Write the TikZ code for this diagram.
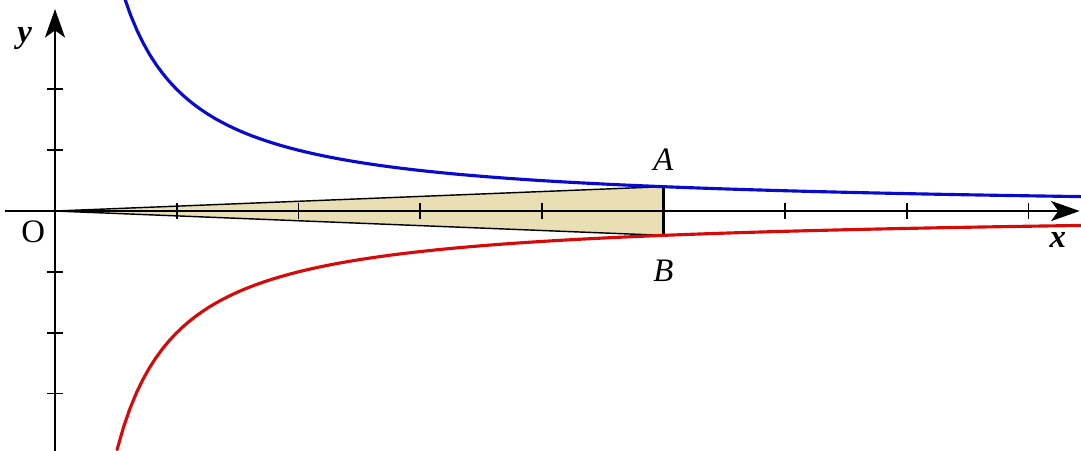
\documentclass[tikz,border=0pt]{standalone}
\usepackage{fontspec}
\setmainfont{Liberation Serif}
\usepackage{tikz}
\usetikzlibrary{arrows.meta, positioning}
\usepackage{tkz-euclide}
\definecolor{sandfill}{RGB}{234,222,180}
\definecolor{curveblue}{RGB}{10,10,205}
\definecolor{curvered}{RGB}{215,10,10}

\begin{document}
\begin{tikzpicture}[x=1.5cm, y=1.5cm, font=\fontsize{11.5}{13}\selectfont,
        axis/.style={line width=0.75pt, -{Stealth[length=10pt, width=7pt, inset=2.5pt]}},
        tickmark/.style={line width=0.6pt},
        curve/.style={line width=1.1pt, line cap=round}]
                \useasboundingbox (-0.452,-1.964) rectangle (8.431,1.734);
                \tkzDefPoints{0/0/O, 5/0.2/A, 5/-0.2/B}
                \tkzDefPoints{-0.41/0/X_l, 8.42/0/X_r, 0/-1.97/Y_b, 0/1.66/Y_t}
                \fill[sandfill] (O) -- (A) -- (B) -- cycle;
                \draw[axis] (X_l) -- (X_r);
                \draw[axis] (Y_b) -- (Y_t);
                \foreach \i in {1,...,8}
                    \draw[tickmark] (\i,-0.066) -- (\i,0.066);
                \foreach \j in {-1.5,-1,-0.5,0.5,1}
                    \draw[tickmark] (-0.066,\j) -- (0.066,\j);
                \tkzDrawSegments[black, line width=0.5pt](O,A O,B)
                \tkzDrawSegments[black, line width=0.8pt](A,B)
                \draw[curve, curveblue] plot[domain=0.57:8.45, samples=150] (\x, {1/\x});
                \draw[curve, curvered] plot[domain=0.51:8.45, samples=150] (\x, {-1/\x});
                \node (labA) [above=2pt of A] {\textit{A}};
                \node (labB) [below=5pt of B] {\textit{B}};
                \node (labO) [below left=0pt of O] {O};
                \node (labx) at (8.24,-0.24) {\textit{\textbf{x}}};
                \node (laby) at (-0.25,1.42) {\textit{\textbf{y}}};
            \end{tikzpicture}
\end{document}
